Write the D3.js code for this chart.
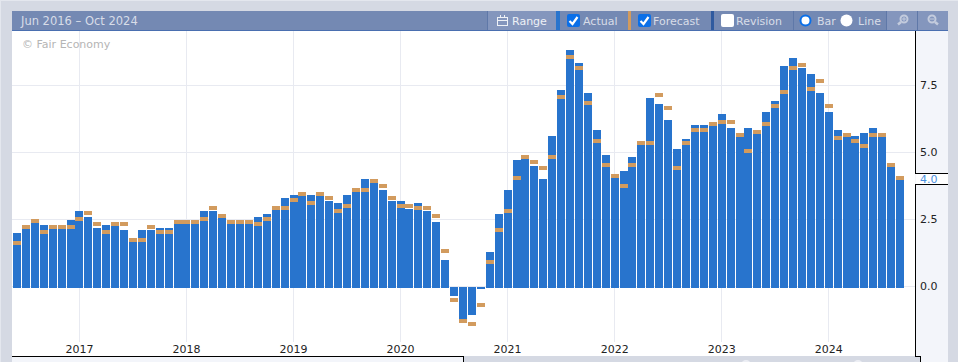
<!DOCTYPE html>
<html>
<head>
<meta charset="utf-8">
<script src="https://cdn.jsdelivr.net/npm/d3@7"></script>
<style>
    html, body { margin: 0; padding: 0; background: #d5d9e3; overflow: hidden; }
    svg { display: block; font-family: "DejaVu Sans", sans-serif; }
</style>
</head>
<body>
<div id="chart"></div>
<script>
// one entry per month from Jun 2016 to Sep 2024
const actual = [
    2.05, 2.2, 2.43, 2.35, 2.2, 2.2, 2.55, 2.87, 2.65, 2.25,
    2.35, 2.3, 2.15, 1.7, 2.15, 2.15, 2.25, 2.25, 2.4, 2.4,
    2.4, 2.87, 2.87, 2.6, 2.4, 2.4, 2.4, 2.65, 2.76, 2.9,
    3.35, 3.47, 3.43, 3.47, 3.43, 3.25, 3.17, 3.47, 3.6, 4.07,
    3.9, 3.65, 3.25, 3.25, 2.95, 3.17, 2.87, 2.46, 1.04, -0.3,
    -1.16, -1.0, -0.03, 1.34, 2.76, 3.66, 4.78, 4.81, 4.55, 4.07,
    5.67, 7.39, 8.88, 8.4, 7.28, 5.9, 4.96, 4.1, 4.37, 4.89,
    5.34, 7.09, 6.87, 6.27, 5.19, 5.56, 6.08, 6.08, 6.04, 6.49,
    5.97, 5.63, 5.97, 5.75, 6.57, 6.98, 8.28, 8.58, 8.21, 7.99,
    7.28, 6.57, 5.9, 5.63, 5.67, 5.78, 5.97, 5.63, 4.51, 4.03
];
const forecast = [
    1.6, 2.2, 2.43, 2.0, 2.2, 2.2, 2.2, 2.5, 2.72, 2.3,
    2.0, 2.3, 2.3, 1.7, 1.7, 2.2, 2.0, 2.0, 2.4, 2.4,
    2.4, 2.5, 2.9, 2.6, 2.4, 2.4, 2.4, 2.3, 2.5, 2.9,
    2.9, 3.2, 3.43, 3.1, 3.43, 3.3, 2.8, 3.0, 3.6, 3.6,
    3.92, 3.73, 3.3, 3.0, 3.0, 2.9, 2.9, 2.6, 1.3, -0.52,
    -1.3, -1.42, -0.71, 0.9, 2.1, 2.8, 4.03, 4.81, 4.63, 4.4,
    4.81, 7.05, 8.55, 8.13, 6.83, 5.41, 4.51, 4.1, 3.73, 4.51,
    5.34, 5.34, 7.13, 6.64, 4.4, 5.34, 5.82, 5.82, 6.04, 6.12,
    6.12, 5.63, 5.04, 5.75, 6.04, 6.72, 7.24, 8.13, 8.25, 7.35,
    7.65, 6.72, 5.52, 5.63, 5.41, 5.22, 5.63, 5.63, 4.51, 4.03
];
const yTicks = [0, 2.5, 5, 7.5];
const yearTicks = [2017, 2018, 2019, 2020, 2021, 2022, 2023, 2024];
const rangeLabel = "Jun 2016 \u2013 Oct 2024";
const lastLabel = "4.0";

const width = 958, height = 362;
const plot = { left: 12, right: 915, top: 31, bottom: 356 };
const colors = {
    bg: "#d5d9e3", panel: "#f3f5fa", bar: "#2874cd", marker: "#d29b5e",
    grid: "#e8eaf1", bar2: "#7489b3", barLight: "#8496bd", line: "#5f78a8",
    text: "#d8dde8", tick: "#222"
};

const months = d3.range(actual.length).map(i => new Date(2016, 5 + i, 1));

const x = d3.scaleBand()
    .domain(months.map(d => +d))
    .range([13.5, 904.6])
    .paddingInner(0.1);

const y = d3.scaleLinear()
    .domain([0, 7.5])
    .range([288, 87]);

const svg = d3.select("#chart").append("svg")
    .attr("width", width)
    .attr("height", height);

svg.append("rect").attr("width", width).attr("height", height).attr("fill", colors.bg);
svg.append("rect").attr("x", 0).attr("y", 0).attr("width", 1).attr("height", height).attr("fill", "#e4e7ee");
svg.append("rect").attr("x", 0).attr("y", 0).attr("width", width).attr("height", 1).attr("fill", "#e4e7ee");

// plot area and right hand panel
svg.append("rect")
    .attr("x", plot.left).attr("y", plot.top)
    .attr("width", plot.right - plot.left).attr("height", plot.bottom - plot.top)
    .attr("fill", "#fff");
svg.append("rect")
    .attr("x", plot.right).attr("y", plot.top)
    .attr("width", 948 - plot.right).attr("height", height - plot.top)
    .attr("fill", colors.panel);
svg.append("rect")
    .attr("x", plot.left).attr("y", plot.bottom)
    .attr("width", 451).attr("height", height - plot.bottom)
    .attr("fill", colors.panel);
svg.append("rect")
    .attr("x", 464).attr("y", plot.bottom + 1)
    .attr("width", 456).attr("height", height - plot.bottom)
    .attr("fill", colors.bg);
[746, 858].forEach(cx => {
    svg.append("circle").attr("cx", cx).attr("cy", 365).attr("r", 5).attr("fill", "#eceef4");
});

// year axis, its ticks are the vertical grid
const xAxis = svg.append("g")
    .attr("transform", `translate(-0.5,342)`)
    .call(d3.axisBottom(x)
        .tickValues(yearTicks.map(yr => +new Date(yr, 0, 1)))
        .tickFormat(d => new Date(d).getFullYear())
        .tickSize(-(342 - plot.top))
        .tickPadding(3));
xAxis.select(".domain").remove();
xAxis.selectAll("line").attr("stroke", colors.grid).attr("shape-rendering", "crispEdges");
xAxis.selectAll("text")
    .attr("fill", colors.tick)
    .style("font-size", "11px")
    .style("font-family", '"DejaVu Sans", sans-serif');

// value axis, its ticks are the horizontal grid
const yAxis = svg.append("g")
    .attr("transform", `translate(${plot.right},-2)`)
    .call(d3.axisRight(y)
        .tickValues(yTicks)
        .tickFormat(d3.format(".1f"))
        .tickSize(-(plot.right - plot.left))
        .tickPadding(5));
yAxis.select(".domain").remove();
yAxis.selectAll("line").attr("stroke", colors.grid).attr("shape-rendering", "crispEdges");
yAxis.selectAll("text")
    .attr("x", 5)
    .attr("fill", colors.tick)
    .style("font-size", "11px")
    .style("font-family", '"DejaVu Sans", sans-serif');

svg.append("text")
    .attr("x", 22).attr("y", 48)
    .attr("fill", "#b5b5b5")
    .style("font-size", "11px")
    .text("\u00a9 Fair Economy");

const barWidth = 8;

svg.append("g").selectAll("rect")
    .data(actual)
    .join("rect")
    .attr("x", (d, i) => Math.floor(x(+months[i])))
    .attr("y", d => d >= 0 ? y(d) : y(0) - 1)
    .attr("width", barWidth)
    .attr("height", d => d >= 0 ? y(0) - y(d) : y(d) - y(0) + 1)
    .attr("fill", colors.bar)
    .attr("shape-rendering", "crispEdges");

svg.append("g").selectAll("rect")
    .data(forecast)
    .join("rect")
    .attr("x", (d, i) => Math.floor(x(+months[i])))
    .attr("y", d => y(d) - 4)
    .attr("width", barWidth)
    .attr("height", 4)
    .attr("fill", colors.marker)
    .attr("shape-rendering", "crispEdges");

// black frame of the panel, broken by the last value flag
const frame = svg.append("g").attr("stroke", "#000").attr("fill", "none").attr("shape-rendering", "crispEdges");
frame.append("path").attr("d", `M915.5,31V173.5H948`);
frame.append("path").attr("d", `M948,184.5H915.5V356.5H920.5V362`);
frame.append("path").attr("d", `M12,356.5H463.5V362`);
svg.append("rect").attr("x", 916).attr("y", 174).attr("width", 32).attr("height", 10).attr("fill", "#fff");
svg.append("text")
    .attr("x", 920).attr("y", 183)
    .attr("fill", "#4a8fe0")
    .style("font-size", "11px")
    .text(lastLabel);

// toolbar
const bar = svg.append("g");
bar.append("rect").attr("x", 12).attr("y", 11).attr("width", 936).attr("height", 20).attr("fill", colors.bar2);
bar.append("rect").attr("x", 12).attr("y", 30).attr("width", 936).attr("height", 1).attr("fill", "#4a6fb0");
bar.append("rect").attr("x", 488).attr("y", 11).attr("width", 68).attr("height", 19).attr("fill", colors.barLight);
bar.append("rect").attr("x", 887).attr("y", 11).attr("width", 61).attr("height", 19).attr("fill", colors.barLight);

[487, 793, 886, 917].forEach(px => {
    bar.append("rect").attr("x", px).attr("y", 11).attr("width", 1).attr("height", 19).attr("fill", colors.line);
});
[[556, 4, colors.bar], [628, 3, colors.marker], [711, 3, "#2f5a9f"]].forEach(([px, w, c]) => {
    bar.append("rect").attr("x", px).attr("y", 11).attr("width", w).attr("height", 19).attr("fill", c);
});

const label = (px, txt, size = 11, fill = colors.text) => bar.append("text")
    .attr("x", px).attr("y", 25)
    .attr("fill", fill)
    .style("font-size", `${size}px`)
    .text(txt);

label(21, rangeLabel, 11.5);
label(512, "Range", 11, "#eef1f6");
label(583, "Actual");
label(653, "Forecast");
label(736, "Revision");
label(817, "Bar");
label(858, "Line");

// calendar icon
const cal = bar.append("g").attr("fill", "none").attr("stroke", "#eef1f6");
cal.append("rect").attr("x", 497.5).attr("y", 17.5).attr("width", 10).attr("height", 8);
cal.append("path").attr("d", "M497,20.5H508M500.5,15V18M504.5,15V18");

[[567, true], [638, true], [721, false]].forEach(([px, checked]) => {
    bar.append("rect")
        .attr("x", px).attr("y", 14).attr("width", 13).attr("height", 13).attr("rx", 2)
        .attr("fill", checked ? "#0a6fe8" : "#fff");
    if (checked) {
        bar.append("path")
            .attr("d", `M${px + 2.5},21 L${px + 5.5},24 L${px + 10.5},17`)
            .attr("fill", "none").attr("stroke", "#fff").attr("stroke-width", 2.2);
    }
});

bar.append("circle").attr("cx", 805.5).attr("cy", 20.5).attr("r", 5).attr("fill", "#fff").attr("stroke", "#0a6fe8").attr("stroke-width", 2);
bar.append("circle").attr("cx", 846.5).attr("cy", 20.5).attr("r", 6).attr("fill", "#fff");

// zoom in and out icons
[[904, true], [932, false]].forEach(([cx, plus]) => {
    const g = bar.append("g").attr("fill", "none").attr("stroke", "#c3cbdd");
    g.append("circle").attr("cx", cx).attr("cy", 19).attr("r", 3.5).attr("stroke-width", 2);
    g.append("path")
        .attr("d", plus ? `M${cx - 3},22L${cx - 6},24.5` : `M${cx + 3},22L${cx + 6},24.5`)
        .attr("stroke-width", 2.5);
    g.append("path")
        .attr("d", plus ? `M${cx - 2},19H${cx + 2}M${cx},17V21` : `M${cx - 2},19H${cx + 2}`)
        .attr("stroke-width", 1);
});
</script>
</body>
</html>
